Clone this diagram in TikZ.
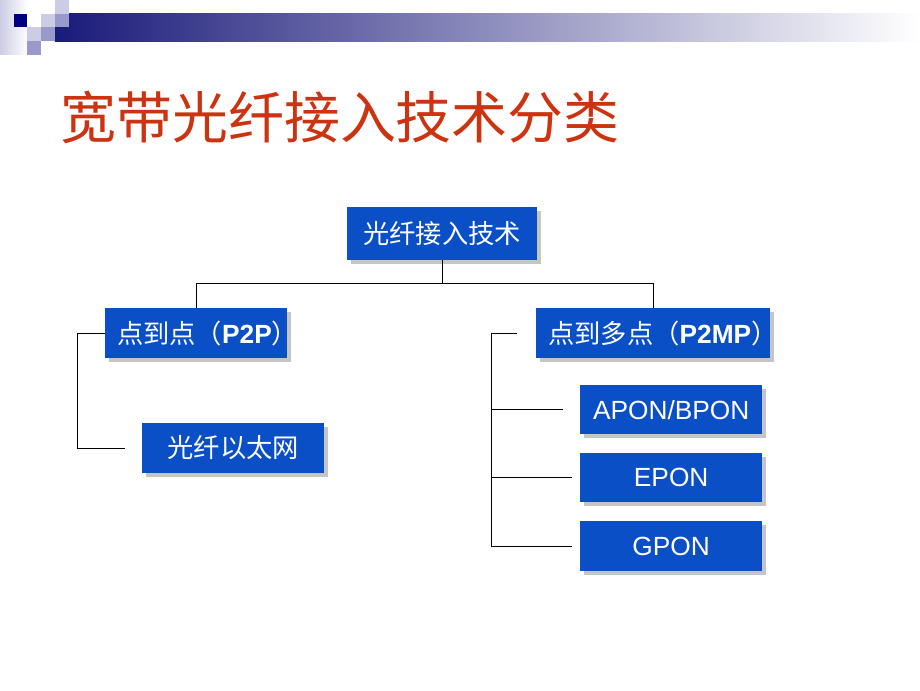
\documentclass[tikz,border=0pt]{standalone}
\usepackage{fontspec}
\setmainfont{Liberation Sans}
\newfontfamily\cjk{Noto Sans CJK SC}
\usetikzlibrary{positioning,shadows}
\definecolor{boxc}{HTML}{0B4FC6}
\definecolor{titlec}{HTML}{CC3311}
\definecolor{hdark}{HTML}{000080}
\definecolor{hmid}{HTML}{9999CC}
\definecolor{hlight}{HTML}{CCCCE6}
\definecolor{hbar}{HTML}{1A1A7A}
\newcommand{\zh}[1]{{\cjk #1}}
\newcommand{\leftin}[2]{\makebox[#1][l]{\hspace{0.3cm}#2}}
\tikzset{
  tech/.style ={fill=boxc,text=white,minimum width=4.55cm,minimum height=1.25cm,
                inner sep=0pt,font=\fontsize{18.7}{20}\selectfont,
                drop shadow={shadow xshift=0.1cm,shadow yshift=-0.1cm,fill=black!45}},
  wide/.style ={tech,minimum width=5.85cm},
  link/.style ={line width=0.7pt,black},
}

\begin{document}
\begin{tikzpicture}
        \useasboundingbox (0,0) rectangle (23,-17.25);
        % header strip
        \shade[left color=hlight,right color=white] (0,0) rectangle (0.685,-1.37);
        \shade[left color=hbar,right color=white] (1.37,-0.3425) rectangle (23,-1.0275);
        \foreach \c/\r/\col in {1/1/hdark,4/0/hlight,3/1/hlight,4/1/hmid,2/2/hlight,3/2/hmid,2/3/hmid}
          \fill[\col] (\c*0.3425,-\r*0.3425) rectangle ++(0.3425,-0.3425);
        \node[anchor=west,inner sep=0pt,text=titlec,font=\cjk\fontsize{39.8}{42}\selectfont]
              (title) at (1.5,-2.93) {宽带光纤接入技术分类};

        \node[tech,minimum width=4.75cm,minimum height=1.33cm] (fa) at (11.05,-5.84) {\zh{光纤接入技术}};
        \node[tech]  (p2p)  at (4.9,-8.33)   {\leftin{4.55cm}{\zh{点到点（}\textbf{P2P}\zh{）}}};
        \node[tech]  (eth)  at (5.83,-11.2)  {\zh{光纤以太网}};
        \node[wide]  (p2mp) at (16.33,-8.33) {\leftin{5.85cm}{\zh{点到多点（}\textbf{P2MP}\zh{）}}};
        \node[tech,minimum height=1.23cm] (apon) at (16.78,-10.24) {APON/BPON};
        \node[tech,minimum height=1.23cm] (epon) at (16.78,-11.94) {EPON};
        \node[tech,minimum height=1.23cm] (gpon) at (16.78,-13.65) {GPON};

        \draw[link] (fa.south) -- ++(0,-0.58) -| (p2p.north);
        \draw[link] (fa.south) -- ++(0,-0.58) -| (p2mp.north);

        \coordinate[left=0.43cm of eth.west]   (ethend);
        \draw[link] (p2p.west) -- ++(-0.68,0) |- (ethend);

        \coordinate[left=0.48cm of p2mp.west]  (mpend);
        \coordinate[left=0.43cm of apon.west]  (aend);
        \coordinate[left=0.2cm of epon.west]   (eend);
        \coordinate[left=0.2cm of gpon.west]   (gend);
        \coordinate (rail) at (12.28,0);
        \draw[link] (mpend) -- (rail |- mpend) |- (gend);
        \draw[link] (rail |- aend) -- (aend);
        \draw[link] (rail |- eend) -- (eend);
      \end{tikzpicture}
\end{document}
